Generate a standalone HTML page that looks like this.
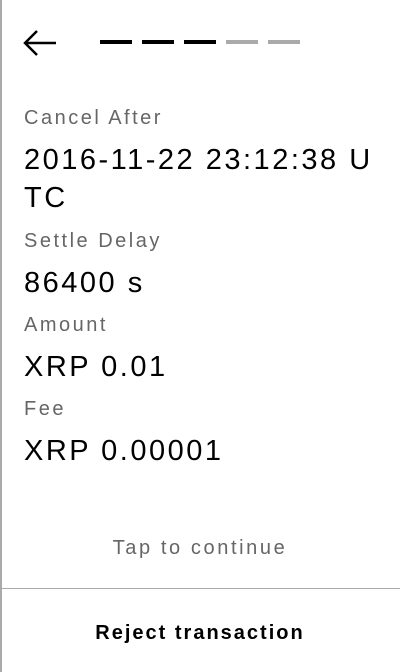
<!DOCTYPE html>
<html><head><meta charset="utf-8"><style>
body{margin:0;width:400px;height:672px;background:#fff;position:relative;overflow:hidden;font-family:"Liberation Sans",sans-serif}
.b{position:absolute;left:0;top:0;width:2px;height:672px;background:#aaa}
.d{position:absolute;top:40px;width:32px;height:4px}
.t{position:absolute;white-space:nowrap}
.l{left:24px;font-size:20px;line-height:23px;color:#666;letter-spacing:2.5px}
.v{left:24px;font-size:29px;line-height:38px;color:#000;letter-spacing:2.5px}
</style></head><body>
<div class="b"></div>
<svg style="position:absolute;left:22px;top:28px" width="36" height="30"><path d="M3 15H34M15 3L3 15L15 27" stroke="#000" stroke-width="2.5" fill="none"/></svg>
<div class="d" style="left:100px;background:#000"></div>
<div class="d" style="left:142px;background:#000"></div>
<div class="d" style="left:184px;background:#000"></div>
<div class="d" style="left:226px;background:#aaa"></div>
<div class="d" style="left:268px;background:#aaa"></div>
<div class="t l" style="top:107px">Cancel After</div>
<div class="t v" style="top:141px">2016-11-22 23:12:38 U<br>TC</div>
<div class="t l" style="top:230px">Settle Delay</div>
<div class="t v" style="top:264px">86400 s</div>
<div class="t l" style="top:314px">Amount</div>
<div class="t v" style="top:348px">XRP 0.01</div>
<div class="t l" style="top:398px">Fee</div>
<div class="t v" style="top:432px">XRP 0.00001</div>
<div class="t" style="left:0;width:400px;text-align:center;top:537px;font-size:20px;line-height:23px;color:#666;letter-spacing:2.6px">Tap to continue</div>
<div style="position:absolute;left:0;top:588px;width:400px;height:1px;background:#aaa"></div>
<div class="t" style="left:0;width:400px;text-align:center;top:622px;font-size:20px;line-height:23px;font-weight:bold;color:#000;letter-spacing:2px">Reject transaction</div>
</body></html>
